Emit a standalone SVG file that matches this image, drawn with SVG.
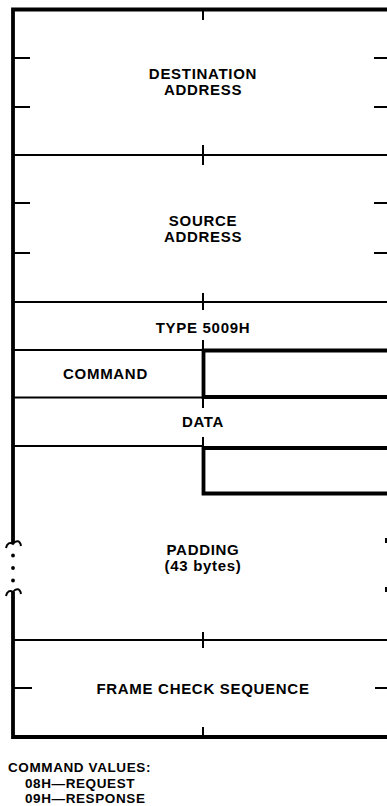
<svg xmlns="http://www.w3.org/2000/svg" width="387" height="806" viewBox="0 0 387 806">
<style>
.thin{stroke:#000;stroke-width:2;fill:none}
.thick{stroke:#000;stroke-width:3.8;fill:none}
.lbl{font-family:"Liberation Sans",Arial,sans-serif;font-weight:bold;font-size:15px;letter-spacing:0.7px;fill:#000;text-anchor:middle}
.note{font-family:"Liberation Sans",Arial,sans-serif;font-weight:bold;font-size:13.5px;letter-spacing:0.6px;fill:#000}
</style>
<rect width="387" height="806" fill="#fff"/>
<g id="frame">
<path class="thick" d="M387 9.5H13V543"/>
<path class="thick" d="M13 592V737H387"/>
<path class="thin" d="M6 548C7 543 10 542 13 544C16 540 20 540 21 546"/>
<path class="thin" d="M6 596C7 591 10 590 13 592C16 588 20 588 21 594"/>
<circle cx="13" cy="555.5" r="1.9"/>
<circle cx="13" cy="568" r="1.9"/>
<circle cx="13" cy="580.5" r="1.9"/>
<rect x="385" y="538" width="2" height="5"/>
<rect x="385" y="587" width="2" height="5"/>
</g>
<g id="destination">
<path class="thin" d="M203 11V20M13 58H30M13 107H30M374 58H387M374 107H387M13 155H387M203 145V165"/>
<text class="lbl" x="203" y="78.5">DESTINATION</text>
<text class="lbl" x="203" y="94.5">ADDRESS</text>
</g>
<g id="source">
<path class="thin" d="M13 203H30M13 253H30M374 203H387M374 253H387M13 302H387M203 293V310"/>
<text class="lbl" x="203" y="226">SOURCE</text>
<text class="lbl" x="203" y="242">ADDRESS</text>
</g>
<g id="type">
<path class="thin" d="M13 350H203M203 340V350"/>
<text class="lbl" x="203" y="333">TYPE 5009H</text>
</g>
<g id="command">
<path class="thick" d="M387 350.5H203.5V397H387"/>
<path class="thin" d="M13 397.5H203M203 398V408"/>
<text class="lbl" x="105.5" y="379">COMMAND</text>
</g>
<g id="data">
<path class="thin" d="M13 446H203M203 437V446"/>
<path class="thick" d="M387 448H203.5V493.5H387"/>
<text class="lbl" x="203" y="427">DATA</text>
</g>
<g id="padding">
<path class="thin" d="M13 640H387M203 632V648"/>
<text class="lbl" x="203" y="555">PADDING</text>
<text class="lbl" x="203" y="571">(43 bytes)</text>
</g>
<g id="fcs">
<path class="thin" d="M13 688H32M375 688H387M203 727V737"/>
<text class="lbl" x="203" y="694">FRAME CHECK SEQUENCE</text>
</g>
<g id="connectors"></g>
<g id="legend">
<text class="note" x="8" y="772">COMMAND VALUES:</text>
<text class="note" x="25" y="787.5">08H—REQUEST</text>
<text class="note" x="25" y="803">09H—RESPONSE</text>
</g>
</svg>
